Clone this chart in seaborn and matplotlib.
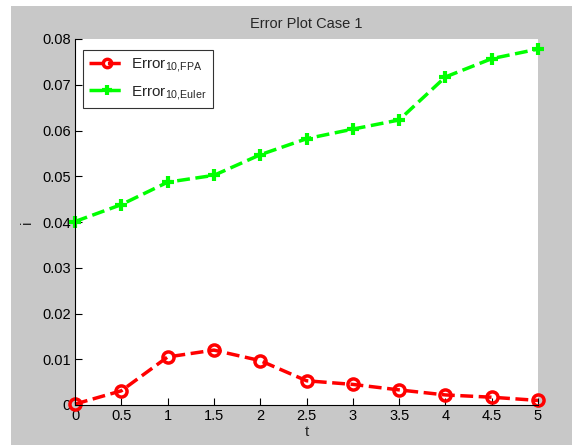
import matplotlib
matplotlib.use("Agg")
import matplotlib.pyplot as plt
import seaborn as sns
import numpy as np
import pandas as pd
from matplotlib.ticker import FormatStrFormatter, MultipleLocator
from matplotlib.patches import Rectangle

t = [0, 0.5, 1, 1.5, 2, 2.5, 3, 3.5, 4, 4.5, 5]
err_fpa = [0.0002, 0.0031, 0.0105, 0.0120, 0.0097, 0.0053, 0.0045, 0.0033, 0.0022, 0.0017, 0.0010]
err_euler = [0.0401, 0.0438, 0.0487, 0.0502, 0.0547, 0.0582, 0.0603, 0.0623, 0.0717, 0.0757, 0.0778]
labels = [r'Error$_{\mathrm{10{,}FPA}}$', r'Error$_{\mathrm{10{,}Euler}}$']

sns.set_style("white")
plt.rcParams['font.family'] = ['Liberation Sans', 'DejaVu Sans']
plt.rcParams['mathtext.fontset'] = 'custom'
plt.rcParams['mathtext.rm'] = 'Liberation Sans'
plt.rcParams['mathtext.it'] = 'Liberation Sans'

fig = plt.figure(figsize=(5.72, 4.45), dpi=100, facecolor='white')
fig.patches.append(Rectangle((11/572, 0), 1, 1 - 6/445, transform=fig.transFigure,
                             facecolor='#c8c8c8', edgecolor='none', zorder=-10))
ax = fig.add_axes([75/572, 40/445, 463/572, 366/445])
ax.set_facecolor('white')

df = pd.DataFrame({'t': t, 'fpa': err_fpa, 'euler': err_euler})
sns.lineplot(data=df, x='t', y='fpa', ax=ax, color='#ff0000', linestyle='--', linewidth=2.5,
             marker='o', markersize=8, markerfacecolor='none', markeredgecolor='#ff0000',
             markeredgewidth=2.5, label=labels[0], clip_on=False)
sns.lineplot(data=df, x='t', y='euler', ax=ax, color='#00ff00', linestyle='--', linewidth=2.5,
             marker='+', markersize=9, markeredgecolor='#00ff00',
             markeredgewidth=3, label=labels[1], clip_on=False)

ax.set_xlim(0, 5)
ax.set_ylim(0, 0.08)
ax.xaxis.set_major_locator(MultipleLocator(0.5))
ax.yaxis.set_major_locator(MultipleLocator(0.01))
ax.xaxis.set_major_formatter(FormatStrFormatter('%g'))
ax.yaxis.set_major_formatter(FormatStrFormatter('%g'))
ax.tick_params(direction='in', length=5, width=0.8, labelsize=10.5, colors='black',
               pad=3)
ax.tick_params(axis='both', which='both', left=True, bottom=True)
for s in ['top', 'right']:
    ax.spines[s].set_visible(False)
for s in ['left', 'bottom']:
    ax.spines[s].set_color('black')
    ax.spines[s].set_linewidth(0.8)

ax.set_title('Error Plot Case 1', fontsize=10.5, pad=8)
ax.set_xlabel('t', fontsize=11, labelpad=1)
ax.set_ylabel('i', fontsize=11, labelpad=6)

leg = ax.legend(loc='upper left', bbox_to_anchor=(0.0, 0.99), fontsize=11,
                frameon=True, fancybox=False, edgecolor='black', handlelength=2.4,
                borderpad=0.4, labelspacing=0.6, handletextpad=0.35, markerscale=0.75)
leg.get_frame().set_linewidth(0.8)

fig.savefig('out.png', dpi=100, facecolor=fig.get_facecolor())
